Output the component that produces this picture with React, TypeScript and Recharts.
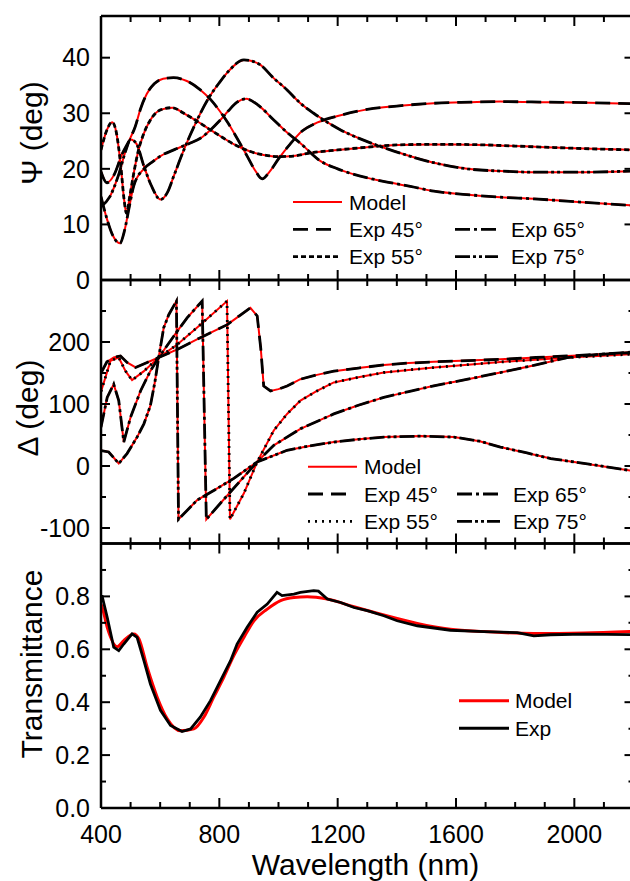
import React from 'react';
import { LineChart, Line, XAxis, YAxis, Legend } from 'recharts';

const FONT = "'Liberation Sans', Arial, Helvetica, sans-serif";
const RED = '#ff0000';
const BLACK = '#000000';

// axis ticks
const WL_TICKS = [400, 500, 600, 700, 800, 900, 1000, 1100, 1200, 1300, 1400, 1500, 1600, 1700, 1800, 1900, 2000, 2100, 2200];
const WL_LABELED = [400, 800, 1200, 1600, 2000];
const PSI_TICKS = [0, 10, 20, 30, 40];
const DELTA_TICKS = [-100, -50, 0, 50, 100, 150, 200, 250];
const DELTA_LABELED = [-100, 0, 100, 200];
const T_TICKS = [0, 0.1, 0.2, 0.3, 0.4, 0.5, 0.6, 0.7, 0.8, 0.9];
const T_LABELED = [0, 0.2, 0.4, 0.6, 0.8];

const ANGLES = ['45°', '55°', '65°', '75°'];

// Psi (deg) — the Exp traces sit on the model within the line width
const PSI45_WL = [400, 420, 445, 470, 497, 515, 535, 555, 580, 610, 645, 690, 736, 770, 800, 830, 860, 894, 920, 945, 970, 1000, 1040, 1080, 1130, 1200, 1300, 1400, 1525, 1650, 1750, 1900, 2050, 2200];
const PSI45 = [19.5, 17.5, 19, 22.5, 25.3, 27.5, 31, 33.5, 35.3, 36.2, 36.4, 35.8, 34.2, 32.5, 30.5, 28.2, 25.5, 22.3, 19.8, 18.2, 19.5, 21.8, 24.5, 26.8, 28.3, 29.5, 30.7, 31.3, 31.8, 32, 32.1, 32, 31.9, 31.7];
const PSI55_WL = [400, 420, 438, 452, 466, 478, 486, 497, 510, 525, 545, 567, 601, 641, 680, 736, 770, 800, 850, 900, 950, 1000, 1050, 1100, 1200, 1300, 1400, 1500, 1600, 1700, 1800, 1900, 2000, 2200];
const PSI55 = [23.4, 27, 28.4, 26.5, 21, 14.5, 12, 15, 19, 23, 26.4, 28.8, 30.6, 31, 30, 28.2, 27, 26, 24.4, 23.2, 22.5, 22.2, 22.3, 22.8, 23.4, 23.9, 24.3, 24.4, 24.4, 24.3, 24.1, 23.9, 23.7, 23.4];
const PSI65_WL = [400, 420, 440, 464, 480, 495, 511, 545, 575, 601, 650, 700, 736, 770, 800, 830, 860, 891, 930, 984, 1030, 1074, 1142, 1200, 1255, 1350, 1450, 1525, 1650, 1750, 1863, 2000, 2200];
const PSI65 = [15, 11, 8, 6.6, 9, 13, 17, 20, 21.3, 22.3, 23.5, 24.6, 25.5, 27, 28.6, 30.4, 32, 32.6, 31.5, 28.8, 26.5, 24.6, 21.4, 20, 19, 17.8, 16.8, 16, 15.3, 14.9, 14.6, 14.1, 13.4];
const PSI75_WL = [400, 430, 460, 485, 500, 520, 545, 570, 601, 625, 646, 680, 725, 760, 800, 830, 883, 910, 939, 980, 1029, 1070, 1119, 1210, 1300, 1390, 1525, 1638, 1750, 1863, 2000, 2200];
const PSI75 = [13.2, 15, 19, 23.5, 25.3, 24.5, 20.5, 17, 14.5, 15.8, 18.7, 23.4, 28.8, 32.4, 35.5, 37.5, 39.6, 39.4, 38.7, 36.5, 34.2, 32, 30, 27, 24.9, 23.2, 21.1, 20, 19.6, 19.4, 19.4, 19.6];

// Delta (deg)
const DEL45_WL = [400, 420, 443, 466, 488, 517, 556, 595, 658, 736, 827, 870, 905, 928, 940, 950, 973, 1000, 1029, 1074, 1130, 1187, 1270, 1356, 1440, 1525, 1640, 1750, 1870, 1976, 2080, 2200];
const DEL45 = [150, 168, 175, 177.5, 167, 159, 167, 175, 188, 207, 228, 243, 255, 242, 190, 129, 121, 124, 129, 140, 147, 153, 158, 163, 166, 168, 170, 172, 175, 177.5, 180, 183];
const DEL55_WL = [400, 432, 460, 483, 505, 545, 595, 658, 736, 826, 836, 883, 928, 984, 1029, 1074, 1130, 1187, 1270, 1356, 1440, 1525, 1640, 1750, 1870, 1976, 2080, 2200];
const DEL55 = [120, 169.5, 175, 153, 138.5, 153, 175, 196, 228, 266, -86, -44, 6.6, 57.3, 84, 105.4, 121, 134.8, 143, 150.8, 155, 158.8, 163.5, 167.8, 171.5, 174.8, 177.5, 180.5];
const DEL65_WL = [400, 421, 443, 460, 477, 500, 534, 567, 595, 658, 691, 742, 756, 838, 928, 984, 1074, 1187, 1270, 1356, 1440, 1525, 1640, 1750, 1870, 1976, 2080, 2200];
const DEL65 = [62.7, 110.7, 132, 105.4, 38.6, 78.7, 121.4, 153.4, 175, 217.5, 239, 266, -86, -41.5, 6.6, 33.3, 60, 84, 98, 110.7, 120, 129.4, 140, 150.8, 163, 174.8, 180, 184];
const DEL75_WL = [400, 426, 460, 488, 522, 545, 567, 582, 595, 612, 629, 655, 662, 725, 790, 849, 928, 1029, 1100, 1187, 1270, 1356, 1480, 1593, 1680, 1750, 1840, 1920, 2050, 2200];
const DEL75 = [25, 22.6, 4, 20, 46.6, 68, 97.4, 135, 175, 223, 244, 266, -86, -55, -37, -20, 6.6, 25.3, 32, 38.6, 43, 46.6, 48.2, 46.6, 40, 30.6, 21, 12, 3, -8];

// Transmittance
const T_MODEL_WL = [400, 404, 421, 455, 477, 511, 528, 556, 590, 624, 669, 714, 748, 781, 815, 849, 883, 917, 962, 1007, 1052, 1097, 1165, 1255, 1356, 1469, 1581, 1694, 1863, 2032, 2200];
const T_MODEL = [0.77, 0.759, 0.683, 0.61, 0.633, 0.658, 0.64, 0.532, 0.419, 0.337, 0.292, 0.299, 0.344, 0.419, 0.494, 0.576, 0.645, 0.708, 0.752, 0.784, 0.796, 0.799, 0.79, 0.761, 0.73, 0.698, 0.676, 0.667, 0.66, 0.662, 0.668];
const T_EXP_WL = [400, 404, 421, 443, 460, 477, 505, 522, 545, 567, 601, 635, 674, 703, 736, 770, 804, 838, 860, 894, 928, 962, 995, 1012, 1052, 1074, 1119, 1135, 1165, 1210, 1255, 1300, 1356, 1401, 1469, 1581, 1694, 1807, 1863, 1920, 2032, 2200];
const T_EXP = [0.8, 0.8, 0.721, 0.608, 0.595, 0.62, 0.658, 0.645, 0.557, 0.469, 0.369, 0.312, 0.289, 0.299, 0.344, 0.406, 0.482, 0.557, 0.62, 0.683, 0.74, 0.771, 0.815, 0.803, 0.809, 0.815, 0.822, 0.82, 0.79, 0.777, 0.758, 0.746, 0.727, 0.708, 0.689, 0.672, 0.667, 0.663, 0.651, 0.655, 0.657, 0.655];

const zip = (w: number[], v: number[]) => w.map((x, i) => ({ w: x, v: v[i] }));

type Series = {
  key: string;
  data: { w: number; v: number }[];
  color: string;
  width: number;
  dash?: string;
  curve: 'monotone' | 'linear';
};

const PSI_DASH = ['15 8', '5 3', '15 4 3 4', '15 3 3 3 3 3'];
const DEL_DASH = ['15 8', '2 5', '15 4 3 4', '15 3 3 3 3 3'];

const psiPairs = [zip(PSI45_WL, PSI45), zip(PSI55_WL, PSI55), zip(PSI65_WL, PSI65), zip(PSI75_WL, PSI75)];
const delPairs = [zip(DEL45_WL, DEL45), zip(DEL55_WL, DEL55), zip(DEL65_WL, DEL65), zip(DEL75_WL, DEL75)];

const ellSeries = (sets: { w: number; v: number }[][], dashes: string[], curve: 'monotone' | 'linear'): Series[] => [
  ...sets.map((d, i) => ({ key: `model${i}`, data: d, color: RED, width: 2, curve })),
  ...sets.map((d, i) => ({ key: `exp${i}`, data: d, color: BLACK, width: 2.8, dash: dashes[i], curve })),
];

const tickLine = { stroke: BLACK, strokeWidth: 2 };
const tickText = { fontFamily: FONT, fontSize: 25, fill: BLACK };

const wlTick = (dir: number, labels: boolean) => (p: any) => {
  const v = p.payload.value;
  const major = WL_LABELED.includes(v);
  return (
    <g>
      <line x1={p.x} x2={p.x} y1={p.y} y2={p.y + dir * (major ? 10 : 6)} {...tickLine} />
      {labels && major ? (
        <text x={p.x} y={p.y + 35} textAnchor="middle" {...tickText}>
          {v}
        </text>
      ) : null}
    </g>
  );
};

const valTick = (dir: number, labeled: number[], fmt: ((v: number) => string) | null) => (p: any) => {
  const v = p.payload.value;
  const major = labeled.includes(v);
  return (
    <g>
      <line x1={p.x} x2={p.x + dir * (major ? 9 : 5)} y1={p.y} y2={p.y} {...tickLine} />
      {fmt && major ? (
        <text x={p.x - 11} y={p.y} dy="0.35em" textAnchor="end" {...tickText}>
          {fmt(v)}
        </text>
      ) : null}
    </g>
  );
};

type LegendItem = { label: string; color: string; width: number; dash?: string };

function LegendBox({ items, height, cols }: { items: LegendItem[]; height: number; cols: { x1: number; x2: number; tx: number; y: number }[] }) {
  return (
    <svg width={660} height={height} style={{ overflow: 'visible', pointerEvents: 'none' }}>
      {items.map((it, i) => {
        const c = cols[i];
        return (
          <g key={it.label}>
            <line x1={c.x1} x2={c.x2} y1={c.y} y2={c.y} stroke={it.color} strokeWidth={it.width} strokeDasharray={it.dash} />
            <text x={c.tx} y={c.y + 7.5} fontFamily={FONT} fontSize={21} fill={BLACK}>
              {it.label}
            </text>
          </g>
        );
      })}
    </svg>
  );
}

const ellLegend = (dashes: string[]): LegendItem[] => [
  { label: 'Model', color: RED, width: 2 },
  ...ANGLES.map((a, i) => ({ label: `Exp ${a}`, color: BLACK, width: 2.8, dash: dashes[i] })),
];

const ellLegendPos = (x: number, x2: number, y: number) => [
  { x1: x, x2: x + 49, tx: x + 56, y },
  { x1: x, x2: x + 42, tx: x + 56, y: y + 27.3 },
  { x1: x, x2: x + 47, tx: x + 56, y: y + 54.6 },
  { x1: x2, x2: x2 + 42, tx: x2 + 56, y: y + 27.3 },
  { x1: x2, x2: x2 + 43, tx: x2 + 56, y: y + 54.6 },
];

type PanelProps = {
  plotTop: number;
  plotBottom: number;
  height: number;
  yDomain: [number, number];
  yTicks: number[];
  yLabeled: number[];
  yFmt: (v: number) => string;
  xLabels: boolean;
  series: Series[];
  legend: React.ReactNode;
  title: string;
  titlePos: [number, number];
};

function Panel(p: PanelProps) {
  return (
    <div style={{ position: 'absolute', left: 0, top: 0 }}>
      <LineChart width={660} height={p.height} margin={{ top: 0, right: 0, left: 0, bottom: 0 }}>
        <XAxis
          dataKey="w"
          type="number"
          domain={[400, 2200]}
          ticks={WL_TICKS}
          interval={0}
          allowDataOverflow
          height={p.height - p.plotBottom}
          tickSize={0}
          tickMargin={0}
          tickLine={false}
          axisLine={{ stroke: BLACK, strokeWidth: 2.5 }}
          tick={wlTick(-1, p.xLabels)}
          label={
            p.xLabels
              ? {
                  content: () => (
                    <text x={365.5} y={875} textAnchor="middle" fontFamily={FONT} fontSize={30} fill={BLACK}>
                      Wavelength (nm)
                    </text>
                  ),
                }
              : undefined
          }
        />
        <XAxis
          xAxisId="top"
          orientation="top"
          dataKey="w"
          type="number"
          domain={[400, 2200]}
          ticks={WL_TICKS}
          interval={0}
          allowDataOverflow
          height={p.plotTop}
          tickSize={0}
          tickMargin={0}
          tickLine={false}
          axisLine={{ stroke: BLACK, strokeWidth: 2.5 }}
          tick={wlTick(1, false)}
        />
        <YAxis
          type="number"
          domain={p.yDomain}
          ticks={p.yTicks}
          interval={0}
          allowDataOverflow
          width={101}
          tickSize={0}
          tickMargin={0}
          tickLine={false}
          axisLine={{ stroke: BLACK, strokeWidth: 2.5 }}
          tick={valTick(1, p.yLabeled, p.yFmt)}
          label={{
            content: () => (
              <text
                transform={`translate(${p.titlePos[0]},${p.titlePos[1]}) rotate(-90)`}
                textAnchor="middle"
                fontFamily={FONT}
                fontSize={30}
                fill={BLACK}
              >
                {p.title}
              </text>
            ),
          }}
        />
        <YAxis
          yAxisId="right"
          orientation="right"
          type="number"
          domain={p.yDomain}
          ticks={p.yTicks}
          interval={0}
          allowDataOverflow
          width={26.5}
          tickSize={0}
          tickMargin={0}
          tickLine={false}
          axisLine={{ stroke: BLACK, strokeWidth: 2.5 }}
          tick={valTick(-1, p.yLabeled, null)}
        />
        {p.series.map((s) => (
          <Line
            key={s.key}
            data={s.data}
            dataKey="v"
            type={s.curve}
            stroke={s.color}
            strokeWidth={s.width}
            strokeDasharray={s.dash}
            dot={false}
            activeDot={false}
            isAnimationActive={false}
          />
        ))}
        <Legend
          layout="horizontal"
          verticalAlign="middle"
          align="center"
          wrapperStyle={{ left: 0, top: 0, width: 660, height: p.height, pointerEvents: 'none' }}
          content={() => p.legend}
        />
      </LineChart>
    </div>
  );
}

export default function App() {
  const psiSeries = ellSeries(psiPairs, PSI_DASH, 'monotone');
  const delSeries = ellSeries(delPairs, DEL_DASH, 'linear');
  const tSeries: Series[] = [
    { key: 'tModel', data: zip(T_MODEL_WL, T_MODEL), color: RED, width: 3, curve: 'monotone' },
    { key: 'tExp', data: zip(T_EXP_WL, T_EXP), color: BLACK, width: 2.8, curve: 'linear' },
  ];
  const tLegend: LegendItem[] = [
    { label: 'Model', color: RED, width: 3 },
    { label: 'Exp', color: BLACK, width: 3 },
  ];

  return (
    <div
      style={{
        position: 'absolute',
        left: 0,
        top: 0,
        width: 630,
        height: 881,
        overflow: 'hidden',
        background: '#fff',
      }}
    >
      <Panel
        plotTop={16}
        plotBottom={280}
        height={300}
        yDomain={[0, 47.5]}
        yTicks={PSI_TICKS}
        yLabeled={PSI_TICKS}
        yFmt={(v) => String(v)}
        xLabels={false}
        series={psiSeries}
        title="Ψ (deg)"
        titlePos={[42, 133]}
        legend={<LegendBox items={ellLegend(PSI_DASH)} height={300} cols={ellLegendPos(293, 455, 202)} />}
      />
      <Panel
        plotTop={280}
        plotBottom={543.5}
        height={563.5}
        yDomain={[-125, 300]}
        yTicks={DELTA_TICKS}
        yLabeled={DELTA_LABELED}
        yFmt={(v) => String(v)}
        xLabels={false}
        series={delSeries}
        title="Δ (deg)"
        titlePos={[37.5, 408]}
        legend={<LegendBox items={ellLegend(DEL_DASH)} height={563.5} cols={ellLegendPos(308, 457, 466.7)} />}
      />
      <Panel
        plotTop={543.5}
        plotBottom={808}
        height={881}
        yDomain={[0, 1]}
        yTicks={T_TICKS}
        yLabeled={T_LABELED}
        yFmt={(v) => v.toFixed(1)}
        xLabels
        series={tSeries}
        title="Transmittance"
        titlePos={[41.5, 664]}
        legend={
          <LegendBox
            items={tLegend}
            height={881}
            cols={[
              { x1: 459, x2: 509, tx: 515, y: 700.7 },
              { x1: 459, x2: 509, tx: 515, y: 728.3 },
            ]}
          />
        }
      />
    </div>
  );
}
